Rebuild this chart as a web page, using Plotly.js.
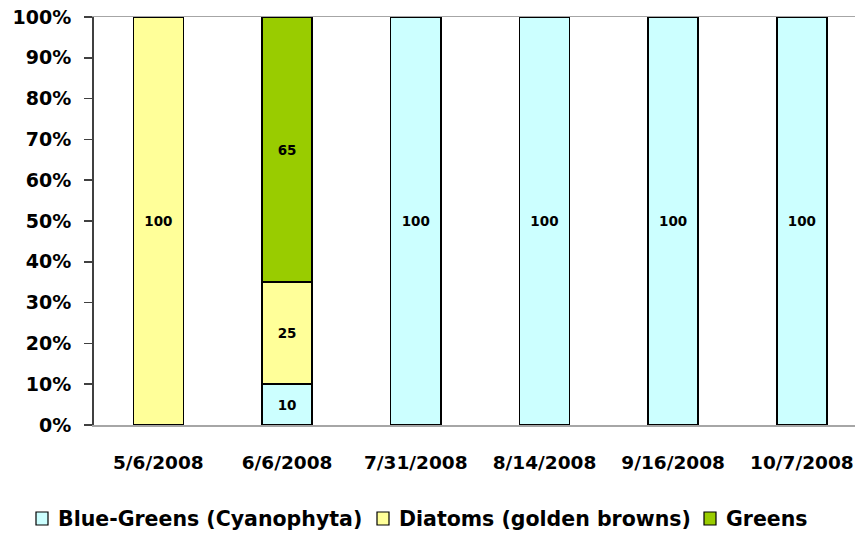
<!DOCTYPE html>
<html>
<head>
<meta charset="utf-8">
<script src="https://cdn.plot.ly/plotly-3.0.1.min.js"></script>
<style>html,body{margin:0;padding:0;background:#fff;}#chart{width:855px;height:534px;}</style>
</head>
<body>
<div id="chart"></div>
<script>
const dates = ["5/6/2008", "6/6/2008", "7/31/2008", "8/14/2008", "9/16/2008", "10/7/2008"];
const blueGreens = [null, 10, 100, 100, 100, 100];
const diatoms = [100, 25, null, null, null, null];
const greens = [null, 65, null, null, null, null];
const seriesNames = ["Blue-Greens (Cyanophyta)", "Diatoms (golden browns)", "Greens"];
const seriesColors = ["#CCFFFF", "#FFFF99", "#99CC00"];
const seriesValues = [blueGreens, diatoms, greens];

const FONT = "DejaVu Sans, Arial, sans-serif";
const W = 855, H = 534, ML = 94, MT = 17, MB = 109;
const plotW = W - ML, plotH = H - MT - MB;
const px2x = p => (p - ML) / plotW;
const py2y = p => (H - MB - p) / plotH;

const traces = seriesValues.map((vals, i) => ({
  type: "bar",
  name: seriesNames[i],
  x: dates,
  y: vals,
  width: 0.39,
  marker: {color: seriesColors[i], line: {color: "#000", width: 1.5}},
  text: vals.map(v => v === null ? "" : String(v)),
  textposition: "inside",
  insidetextanchor: "middle",
  textangle: 0,
  textfont: {family: FONT, size: 13.5, color: "#000", weight: "bold"},
  hoverinfo: "skip",
  showlegend: false
}));

// manual legend (layout positions in pixels)
const legendSquareX = [36, 377, 704];
const shapes = [], annotations = [];
seriesNames.forEach((name, i) => {
  const x0 = legendSquareX[i];
  shapes.push({
    type: "rect", xref: "paper", yref: "paper",
    x0: px2x(x0), x1: px2x(x0 + 12), y0: py2y(525), y1: py2y(512),
    fillcolor: seriesColors[i], line: {color: "#000", width: 1.2}
  });
  annotations.push({
    xref: "paper", yref: "paper",
    x: px2x(x0 + 20), y: py2y(518.5),
    xanchor: "left", yanchor: "middle",
    text: name, showarrow: false,
    font: {family: FONT, size: 20.5, weight: "bold", color: "#000"}
  });
});

const layout = {
  width: W, height: H,
  barmode: "stack",
  margin: {l: ML, r: 0, t: MT, b: MB},
  paper_bgcolor: "#fff", plot_bgcolor: "#fff",
  font: {family: FONT, color: "#000"},
  xaxis: {
    type: "category",
    range: [-0.5, 5.413],
    showline: true, mirror: true, linecolor: "#a6a6a6", linewidth: 1.5,
    ticks: "", showgrid: false, zeroline: false,
    tickfont: {family: FONT, size: 18.5, weight: "bold", color: "#000"},
    ticklabelstandoff: 20
  },
  yaxis: {
    range: [0, 100],
    dtick: 10,
    ticksuffix: "%",
    showgrid: false, zeroline: false,
    showline: true, linecolor: "#404040", linewidth: 2,
    ticks: "outside", ticklen: 8, tickcolor: "#404040", tickwidth: 1.5,
    tickfont: {family: FONT, size: 19, weight: "bold", color: "#000"},
    ticklabelstandoff: 9
  },
  shapes: shapes,
  annotations: annotations,
  showlegend: false
};

Plotly.newPlot("chart", traces, layout, {staticPlot: true});
</script>
</body>
</html>
